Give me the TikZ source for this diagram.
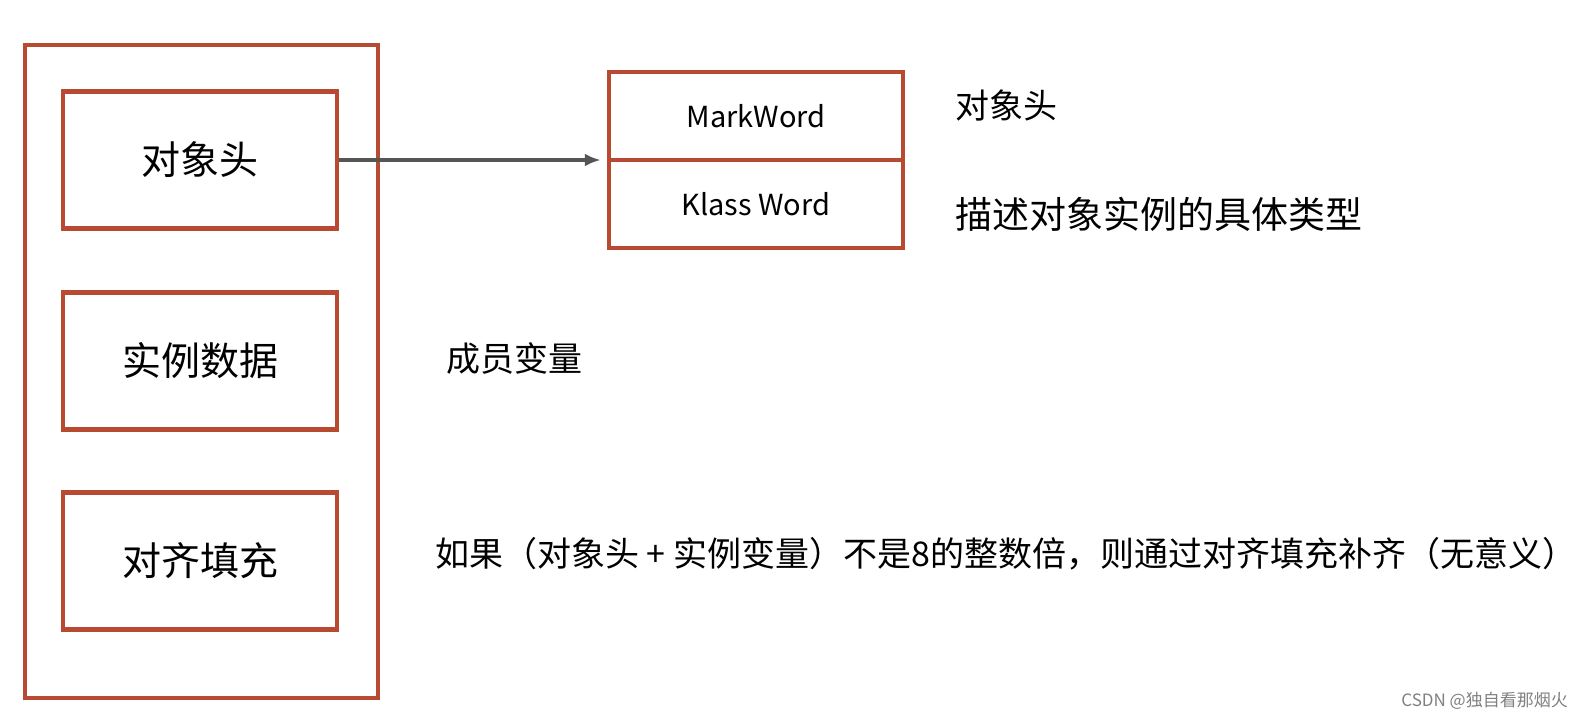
\documentclass[tikz,border=0pt]{standalone}
\usepackage{fontspec}
\setmainfont{Noto Sans CJK SC}
\usetikzlibrary{arrows.meta,positioning}
\definecolor{boxred}{RGB}{184,74,50}
\definecolor{arrowgray}{RGB}{85,85,85}

\begin{document}
\begin{tikzpicture}[x=1pt, y=-1pt, >={Latex[length=16pt,width=13pt]}, every node/.style={font=\fontsize{34}{40}\selectfont, inner sep=0pt}, part/.style={draw=boxred, line width=4.5pt, minimum width=274pt, minimum height=137pt, font=\fontsize{39}{44}\selectfont}, field/.style={draw=boxred, line width=4.5pt, minimum width=294pt, minimum height=88pt, font=\fontsize{29}{34}\selectfont}, note/.style={anchor=west}, arrow/.style={->, draw=arrowgray, line width=4pt, shorten >=6pt}]
\useasboundingbox (0,0) rectangle (1580,723);
\node[draw=boxred, line width=4.5pt, minimum width=353pt, minimum height=653pt] (obj) at (201.5,371.5) {};
\node[part] (head) at (200,160) {对象头};
\node[part] (data) at (200,361) {实例数据};
\node[part] (pad) at (200,561) {对齐填充};
\node[field] (mark) at (756,116) {MarkWord};
\node[field] (klass) at (756,204) {Klass Word};
\node[note] (headnote) at (955,105) {对象头};
\node[note, font=\fontsize{37}{42}\selectfont] (klassnote) at (955,214) {描述对象实例的具体类型};
\node[note] (datanote) at (446,359) {成员变量};
\node[note] (padnote) at (435,554) {如果（对象头\ +\ 实例变量）不是8的整数倍，则通过对齐填充补齐（无意义）};
\node[anchor=east, font=\fontsize{17}{20}\selectfont, text=gray] (mark2) at (1568,701) {CSDN @独自看那烟火};
\draw[arrow] (head.east) -- (head.east -| mark.west);
\end{tikzpicture}
\end{document}
